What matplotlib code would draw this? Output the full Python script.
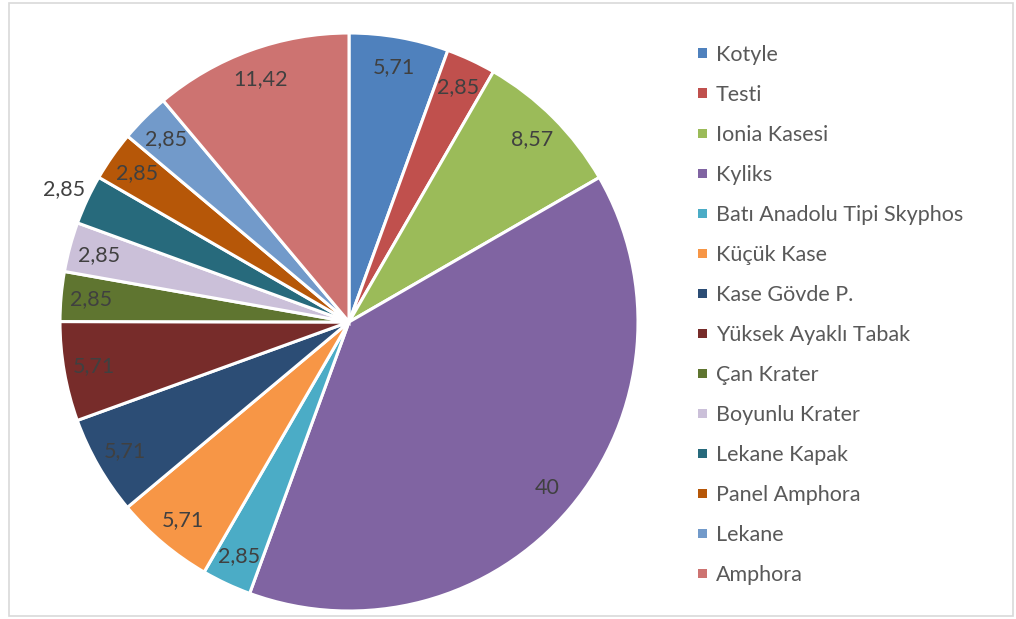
import matplotlib
matplotlib.use("Agg")
import matplotlib.pyplot as plt
from matplotlib.patches import Rectangle
import numpy as np

categories = ["Kotyle", "Testi", "Ionia Kasesi", "Kyliks", "Batı Anadolu Tipi Skyphos",
              "Küçük Kase", "Kase Gövde P.", "Yüksek Ayaklı Tabak", "Çan Krater",
              "Boyunlu Krater", "Lekane Kapak", "Panel Amphora", "Lekane", "Amphora"]
values = [5.71, 2.85, 8.57, 40, 2.85, 5.71, 5.71, 5.71, 2.85, 2.85, 2.85, 2.85, 2.85, 11.42]
colors = ["#4F81BD", "#C0504D", "#9BBB59", "#8064A2", "#4BACC6", "#F79646", "#2C4D75",
          "#772C2A", "#5F7530", "#CBC0D9", "#276A7C", "#B65708", "#729ACA", "#CD7371"]

W, H = 1016, 619
fig = plt.figure(figsize=(W / 100, H / 100), dpi=100)
plt.rcParams['font.family'] = ['Lato', 'DejaVu Sans']
label_color = "#404040"
legend_color = "#595959"
fs = 15.5

# figure border
fig.patches.append(Rectangle((9 / W, 3 / H), 1004 / W, 613 / H, transform=fig.transFigure,
                             fill=False, edgecolor="#d9d9d9", linewidth=1.2))

cx, cy, r = 349, 322, 289
ax = fig.add_axes([(cx - r) / W, (H - cy - r) / H, 2 * r / W, 2 * r / H])
wedges, _ = ax.pie(values, colors=colors, startangle=90, counterclock=False, radius=1,
                   wedgeprops=dict(edgecolor="white", linewidth=2.2))
ax.set_xlim(-1, 1)
ax.set_ylim(-1, 1)
ax.set_aspect("equal")
ax.axis("off")

outside = {"Lekane Kapak"}
for w, cat, v in zip(wedges, categories, values):
    ang = np.deg2rad((w.theta1 + w.theta2) / 2)
    d = 1.09 if cat in outside else 0.895
    lab = f"{v:g}".replace(".", ",")
    ax.text(d * np.cos(ang), d * np.sin(ang), lab, ha="center", va="center",
            fontsize=fs, color=label_color)

# legend
for i, (cat, c) in enumerate(zip(categories, colors)):
    y = 53 + 40 * i
    fig.patches.append(Rectangle((698 / W, (H - y - 4.5) / H), 9 / W, 9 / H,
                                 transform=fig.transFigure, facecolor=c, edgecolor="none"))
    fig.text(716 / W, (H - y) / H, cat, ha="left", va="center_baseline", fontsize=fs,
             color=legend_color)

fig.savefig("out.png", dpi=100)
